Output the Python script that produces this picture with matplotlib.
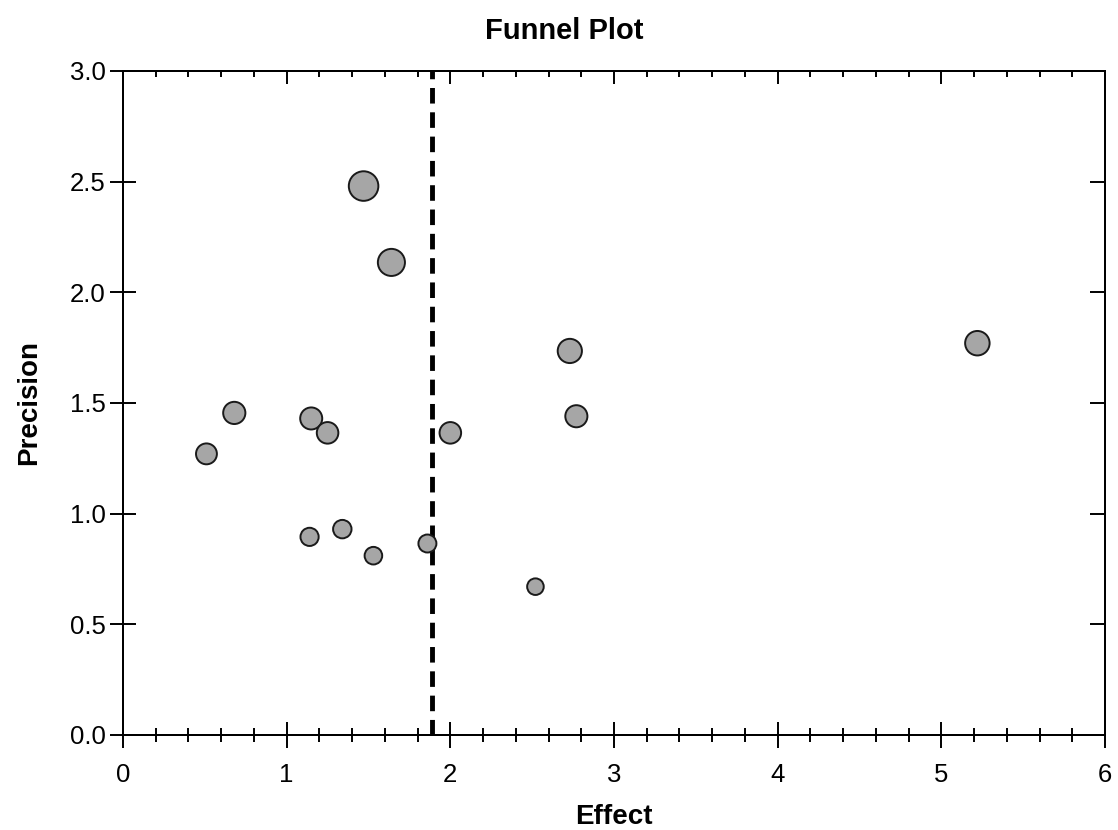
import matplotlib
matplotlib.use('Agg')
import matplotlib.pyplot as plt
from matplotlib.ticker import MultipleLocator

# Datos
effect = [0.51, 0.68, 1.15, 1.25, 1.47, 1.64, 1.14, 1.34, 1.53, 1.86, 2.00, 2.73, 2.77, 2.52, 5.22]
precision = [1.27, 1.455, 1.43, 1.365, 2.48, 2.135, 0.895, 0.93, 0.81, 0.865, 1.365, 1.735, 1.44, 0.67, 1.77]
pooled_effect = 1.89

xticks = [0, 1, 2, 3, 4, 5, 6]
yticks = [0.0, 0.5, 1.0, 1.5, 2.0, 2.5, 3.0]

plt.rcParams['font.family'] = ['Liberation Sans', 'DejaVu Sans']

fig = plt.figure(figsize=(11.18, 8.30), dpi=100)
ax = fig.add_axes([0.110, 0.1145, 0.8784, 0.80])

# tamaño del marcador según la precisión
sizes = [(12 + 7.3 * p) ** 2 * 0.50 for p in precision]
ax.scatter(effect, precision, s=sizes, c='#a6a6a6', edgecolors='#1a1a1a',
           linewidths=1.4, zorder=3)

ax.axvline(pooled_effect, color='black', lw=3.5, dashes=(3.2, 1.8), zorder=2)

ax.set_xlim(0, 6)
ax.set_ylim(0, 3)
ax.set_xticks(xticks)
ax.set_yticks(yticks)
ax.set_yticklabels([f'{v:.1f}' for v in yticks])
ax.xaxis.set_minor_locator(MultipleLocator(0.2))

ax.tick_params(axis='both', which='major', direction='inout', length=19, width=1.4,
               labelsize=18.5, colors='black')
ax.tick_params(axis='x', which='minor', direction='inout', length=10, width=1.4)
ax.tick_params(axis='x', which='major', pad=11)
ax.tick_params(axis='y', which='major', pad=3)
for s in ax.spines.values():
    s.set_linewidth(1.4)

# ejes de arriba y derecha con marcas hacia dentro
top = ax.twiny()
top.set_xlim(ax.get_xlim())
top.set_xticks(xticks)
top.xaxis.set_minor_locator(MultipleLocator(0.2))
top.tick_params(which='major', direction='in', length=9, width=1.4, labeltop=False)
top.tick_params(which='minor', direction='in', length=4, width=1.4)

right = ax.twinx()
right.set_ylim(ax.get_ylim())
right.set_yticks(yticks)
right.tick_params(which='major', direction='in', length=11, width=1.4, labelright=False)
for a in (top, right):
    for s in a.spines.values():
        s.set_linewidth(1.4)

fig.text(0.505, 0.963, 'Funnel Plot', fontsize=21, fontweight='bold',
         ha='center', va='center')
ax.set_xlabel('Effect', fontsize=20, fontweight='bold', labelpad=12)
ax.set_ylabel('Precision', fontsize=20, fontweight='bold', labelpad=20)

fig.savefig('out.png', dpi=100)
